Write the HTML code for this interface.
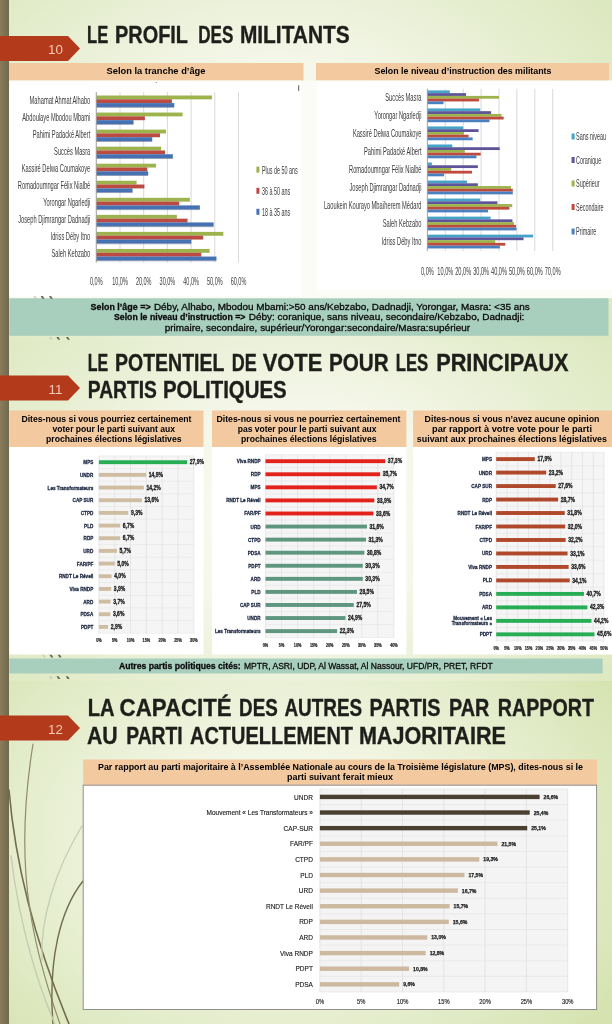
<!DOCTYPE html>
<html lang="fr"><head><meta charset="utf-8"><title>Le profil des militants</title>
<style>html,body{margin:0;padding:0;background:#e8efd6;}svg{display:block;}</style></head>
<body>
<svg width="612" height="1024" viewBox="0 0 612 1024" font-family='"Liberation Sans", sans-serif'>
<defs>
<radialGradient id="bg1" gradientUnits="userSpaceOnUse" cx="0" cy="0" r="1" gradientTransform="translate(280 170) scale(420 300)"><stop offset="0" stop-color="#fbfcf5"/><stop offset="0.35" stop-color="#f5f7ea"/><stop offset="0.7" stop-color="#e6eed0"/><stop offset="1" stop-color="#dbe7bc"/></radialGradient>
<radialGradient id="bg2" gradientUnits="userSpaceOnUse" cx="0" cy="0" r="1" gradientTransform="translate(300 511) scale(420 300)"><stop offset="0" stop-color="#fbfcf5"/><stop offset="0.35" stop-color="#f5f7ea"/><stop offset="0.7" stop-color="#e6eed0"/><stop offset="1" stop-color="#dbe7bc"/></radialGradient>
<radialGradient id="bg3" gradientUnits="userSpaceOnUse" cx="0" cy="0" r="1" gradientTransform="translate(280 840) scale(400 290)"><stop offset="0" stop-color="#f9fbf0"/><stop offset="0.35" stop-color="#f1f5e2"/><stop offset="0.7" stop-color="#e3ecca"/><stop offset="1" stop-color="#d6e3b0"/></radialGradient>
<linearGradient id="strip" x1="0" x2="1" y1="0" y2="0"><stop offset="0" stop-color="#8b7b5b"/><stop offset="1" stop-color="#6e6a4e"/></linearGradient>
</defs>
<rect x="0.00" y="0.00" width="612.00" height="341.00" fill="url(#bg1)" />
<rect x="0.00" y="341.00" width="612.00" height="340.00" fill="url(#bg2)" />
<rect x="0.00" y="681.00" width="612.00" height="343.00" fill="url(#bg3)" />
<g fill="none" stroke-linecap="round">
<path d="M9 790 C 14 850, 30 930, 69 1024" stroke="#716c4e" stroke-width="1.6"/>
<path d="M33 744 C 24 800, 22 860, 30 910 C 36 950, 48 990, 60 1024" stroke="#8f8b6d" stroke-width="1.2"/>
<path d="M83 881 C 60 910, 48 960, 53 1024" stroke="#716c4e" stroke-width="1.4"/>
<path d="M82 826 C 55 870, 40 920, 42 960" stroke="#c9cfb4" stroke-width="1.4"/>
<path d="M11 856 C 20 930, 40 990, 55 1024" stroke="#c7cdb2" stroke-width="1.4"/>
</g>
<rect x="0.00" y="0.00" width="9.00" height="1024.00" fill="url(#strip)" />
<text y="42.80" font-size="23" font-weight="bold" fill="#1e1e1a" stroke="#1e1e1a" stroke-width="0.35"><tspan x="87.00" textLength="21.20" lengthAdjust="spacingAndGlyphs">LE</tspan> <tspan x="115.10" textLength="72.50" lengthAdjust="spacingAndGlyphs">PROFIL</tspan> <tspan x="198.20" textLength="35.10" lengthAdjust="spacingAndGlyphs">DES</tspan> <tspan x="239.90" textLength="109.80" lengthAdjust="spacingAndGlyphs">MILITANTS</tspan></text>
<path d="M0 36 H68 L80 48.5 L68 61 H0 Z" fill="#b43a1c"/>
<text x="55.50" y="54.10" font-size="13.4" fill="#f4c9b6" font-weight="normal" text-anchor="middle" >10</text>
<rect x="9.00" y="63.00" width="294.50" height="17.70" fill="#f3c9a0" />
<rect x="316.00" y="63.00" width="293.00" height="17.70" fill="#f3c9a0" />
<text x="156.00" y="74.30" font-size="8.3" fill="#000" font-weight="bold" text-anchor="middle" textLength="99.00" lengthAdjust="spacingAndGlyphs" >Selon la tranche d’âge</text>
<text x="463.00" y="74.30" font-size="8.3" fill="#000" font-weight="bold" text-anchor="middle" textLength="177.00" lengthAdjust="spacingAndGlyphs" >Selon le niveau d’instruction des militants</text>
<rect x="9.30" y="80.70" width="602.70" height="217.60" fill="#fbfcf5" />
<rect x="9.30" y="80.70" width="292.00" height="215.50" fill="#ffffff" />
<rect x="316.60" y="80.70" width="295.40" height="208.90" fill="#ffffff" />
<circle cx="156.2" cy="82.6" r="0.7" fill="#777"/>
<rect x="298.20" y="85.30" width="1.00" height="5.60" fill="#555" />
<line x1="96.30" y1="92.00" x2="96.30" y2="262.50" stroke="#c8c8c8" stroke-width="0.7" />
<line x1="120.00" y1="92.00" x2="120.00" y2="262.50" stroke="#c8c8c8" stroke-width="0.7" />
<line x1="143.70" y1="92.00" x2="143.70" y2="262.50" stroke="#c8c8c8" stroke-width="0.7" />
<line x1="167.40" y1="92.00" x2="167.40" y2="262.50" stroke="#c8c8c8" stroke-width="0.7" />
<line x1="191.10" y1="92.00" x2="191.10" y2="262.50" stroke="#c8c8c8" stroke-width="0.7" />
<line x1="214.80" y1="92.00" x2="214.80" y2="262.50" stroke="#c8c8c8" stroke-width="0.7" />
<line x1="238.50" y1="92.00" x2="238.50" y2="262.50" stroke="#c8c8c8" stroke-width="0.7" />
<rect x="96.30" y="95.50" width="115.66" height="3.85" fill="#9cb34e" />
<rect x="96.30" y="99.30" width="75.60" height="3.85" fill="#bb4a42" />
<rect x="96.30" y="103.10" width="77.97" height="3.85" fill="#4672b4" />
<rect x="96.30" y="106.90" width="77.97" height="0.90" fill="#3b4f7a" opacity="0.55"/>
<text x="90.30" y="103.93" font-size="10.3" fill="#3a3a3a" font-weight="normal" text-anchor="end" textLength="60.69" lengthAdjust="spacingAndGlyphs" >Mahamat Ahmat Alhabo</text>
<rect x="96.30" y="112.55" width="86.27" height="3.85" fill="#9cb34e" />
<rect x="96.30" y="116.35" width="48.58" height="3.85" fill="#bb4a42" />
<rect x="96.30" y="120.15" width="37.21" height="3.85" fill="#4672b4" />
<rect x="96.30" y="123.95" width="37.21" height="0.90" fill="#3b4f7a" opacity="0.55"/>
<text x="90.30" y="120.98" font-size="10.3" fill="#3a3a3a" font-weight="normal" text-anchor="end" textLength="68.00" lengthAdjust="spacingAndGlyphs" >Abdoulaye Mbodou Mbami</text>
<rect x="96.30" y="129.60" width="69.68" height="3.85" fill="#9cb34e" />
<rect x="96.30" y="133.40" width="63.75" height="3.85" fill="#bb4a42" />
<rect x="96.30" y="137.20" width="55.93" height="3.85" fill="#4672b4" />
<rect x="96.30" y="141.00" width="55.93" height="0.90" fill="#3b4f7a" opacity="0.55"/>
<text x="90.30" y="138.03" font-size="10.3" fill="#3a3a3a" font-weight="normal" text-anchor="end" textLength="57.51" lengthAdjust="spacingAndGlyphs" >Pahimi Padacké Albert</text>
<rect x="96.30" y="146.65" width="64.70" height="3.85" fill="#9cb34e" />
<rect x="96.30" y="150.45" width="68.73" height="3.85" fill="#bb4a42" />
<rect x="96.30" y="154.25" width="76.55" height="3.85" fill="#4672b4" />
<rect x="96.30" y="158.05" width="76.55" height="0.90" fill="#3b4f7a" opacity="0.55"/>
<text x="90.30" y="155.08" font-size="10.3" fill="#3a3a3a" font-weight="normal" text-anchor="end" textLength="36.21" lengthAdjust="spacingAndGlyphs" >Succès Masra</text>
<rect x="96.30" y="163.70" width="59.72" height="3.85" fill="#9cb34e" />
<rect x="96.30" y="167.50" width="50.95" height="3.85" fill="#bb4a42" />
<rect x="96.30" y="171.30" width="51.90" height="3.85" fill="#4672b4" />
<rect x="96.30" y="175.10" width="51.90" height="0.90" fill="#3b4f7a" opacity="0.55"/>
<text x="90.30" y="172.12" font-size="10.3" fill="#3a3a3a" font-weight="normal" text-anchor="end" textLength="68.62" lengthAdjust="spacingAndGlyphs" >Kassiré Delwa Coumakoye</text>
<rect x="96.30" y="180.75" width="40.29" height="3.85" fill="#9cb34e" />
<rect x="96.30" y="184.55" width="48.11" height="3.85" fill="#bb4a42" />
<rect x="96.30" y="188.35" width="36.26" height="3.85" fill="#4672b4" />
<rect x="96.30" y="192.15" width="36.26" height="0.90" fill="#3b4f7a" opacity="0.55"/>
<text x="90.30" y="189.18" font-size="10.3" fill="#3a3a3a" font-weight="normal" text-anchor="end" textLength="72.44" lengthAdjust="spacingAndGlyphs" >Romadoumngar Félix Nialbé</text>
<rect x="96.30" y="197.80" width="93.61" height="3.85" fill="#9cb34e" />
<rect x="96.30" y="201.60" width="82.95" height="3.85" fill="#bb4a42" />
<rect x="96.30" y="205.40" width="103.57" height="3.85" fill="#4672b4" />
<rect x="96.30" y="209.20" width="103.57" height="0.90" fill="#3b4f7a" opacity="0.55"/>
<text x="90.30" y="206.23" font-size="10.3" fill="#3a3a3a" font-weight="normal" text-anchor="end" textLength="47.14" lengthAdjust="spacingAndGlyphs" >Yorongar Ngarledji</text>
<rect x="96.30" y="214.85" width="80.58" height="3.85" fill="#9cb34e" />
<rect x="96.30" y="218.65" width="91.25" height="3.85" fill="#bb4a42" />
<rect x="96.30" y="222.45" width="117.31" height="3.85" fill="#4672b4" />
<rect x="96.30" y="226.25" width="117.31" height="0.90" fill="#3b4f7a" opacity="0.55"/>
<text x="90.30" y="223.28" font-size="10.3" fill="#3a3a3a" font-weight="normal" text-anchor="end" textLength="72.12" lengthAdjust="spacingAndGlyphs" >Joseph Djimrangar Dadnadji</text>
<rect x="96.30" y="231.90" width="127.03" height="3.85" fill="#9cb34e" />
<rect x="96.30" y="235.70" width="106.89" height="3.85" fill="#bb4a42" />
<rect x="96.30" y="239.50" width="95.04" height="3.85" fill="#4672b4" />
<rect x="96.30" y="243.30" width="95.04" height="0.90" fill="#3b4f7a" opacity="0.55"/>
<text x="90.30" y="240.33" font-size="10.3" fill="#3a3a3a" font-weight="normal" text-anchor="end" textLength="39.71" lengthAdjust="spacingAndGlyphs" >Idriss Déby Itno</text>
<rect x="96.30" y="248.95" width="113.29" height="3.85" fill="#9cb34e" />
<rect x="96.30" y="252.75" width="104.99" height="3.85" fill="#bb4a42" />
<rect x="96.30" y="256.55" width="120.16" height="3.85" fill="#4672b4" />
<rect x="96.30" y="260.35" width="120.16" height="0.90" fill="#3b4f7a" opacity="0.55"/>
<text x="90.30" y="257.38" font-size="10.3" fill="#3a3a3a" font-weight="normal" text-anchor="end" textLength="38.77" lengthAdjust="spacingAndGlyphs" >Saleh Kebzabo</text>
<line x1="96.30" y1="92.00" x2="96.30" y2="262.50" stroke="#9a9a9a" stroke-width="0.8" />
<text x="96.30" y="285.20" font-size="10.3" fill="#3a3a3a" font-weight="normal" text-anchor="middle" textLength="12.56" lengthAdjust="spacingAndGlyphs" >0,0%</text>
<text x="120.00" y="285.20" font-size="10.3" fill="#3a3a3a" font-weight="normal" text-anchor="middle" textLength="15.62" lengthAdjust="spacingAndGlyphs" >10,0%</text>
<text x="143.70" y="285.20" font-size="10.3" fill="#3a3a3a" font-weight="normal" text-anchor="middle" textLength="15.62" lengthAdjust="spacingAndGlyphs" >20,0%</text>
<text x="167.40" y="285.20" font-size="10.3" fill="#3a3a3a" font-weight="normal" text-anchor="middle" textLength="15.62" lengthAdjust="spacingAndGlyphs" >30,0%</text>
<text x="191.10" y="285.20" font-size="10.3" fill="#3a3a3a" font-weight="normal" text-anchor="middle" textLength="15.62" lengthAdjust="spacingAndGlyphs" >40,0%</text>
<text x="214.80" y="285.20" font-size="10.3" fill="#3a3a3a" font-weight="normal" text-anchor="middle" textLength="15.62" lengthAdjust="spacingAndGlyphs" >50,0%</text>
<text x="238.50" y="285.20" font-size="10.3" fill="#3a3a3a" font-weight="normal" text-anchor="middle" textLength="15.62" lengthAdjust="spacingAndGlyphs" >60,0%</text>
<rect x="256.40" y="166.60" width="3.00" height="6.00" fill="#9cb34e" />
<text x="262.00" y="173.90" font-size="10.3" fill="#3a3a3a" font-weight="normal" text-anchor="start" textLength="35.77" lengthAdjust="spacingAndGlyphs" >Plus de 50 ans</text>
<rect x="256.40" y="187.80" width="3.00" height="6.00" fill="#bb4a42" />
<text x="262.00" y="195.10" font-size="10.3" fill="#3a3a3a" font-weight="normal" text-anchor="start" textLength="28.26" lengthAdjust="spacingAndGlyphs" >36 à 50 ans</text>
<rect x="256.40" y="208.80" width="3.00" height="6.00" fill="#4672b4" />
<text x="262.00" y="216.10" font-size="10.3" fill="#3a3a3a" font-weight="normal" text-anchor="start" textLength="28.26" lengthAdjust="spacingAndGlyphs" >18 à 35 ans</text>
<line x1="427.40" y1="88.80" x2="427.40" y2="251.07" stroke="#c8c8c8" stroke-width="0.7" />
<line x1="445.30" y1="88.80" x2="445.30" y2="251.07" stroke="#c8c8c8" stroke-width="0.7" />
<line x1="463.20" y1="88.80" x2="463.20" y2="251.07" stroke="#c8c8c8" stroke-width="0.7" />
<line x1="481.10" y1="88.80" x2="481.10" y2="251.07" stroke="#c8c8c8" stroke-width="0.7" />
<line x1="499.00" y1="88.80" x2="499.00" y2="251.07" stroke="#c8c8c8" stroke-width="0.7" />
<line x1="516.90" y1="88.80" x2="516.90" y2="251.07" stroke="#c8c8c8" stroke-width="0.7" />
<line x1="534.80" y1="88.80" x2="534.80" y2="251.07" stroke="#c8c8c8" stroke-width="0.7" />
<line x1="552.70" y1="88.80" x2="552.70" y2="251.07" stroke="#c8c8c8" stroke-width="0.7" />
<rect x="427.40" y="90.40" width="22.38" height="2.80" fill="#46a3c8" />
<rect x="427.40" y="93.15" width="38.66" height="2.80" fill="#5e549a" />
<rect x="427.40" y="95.90" width="71.60" height="2.80" fill="#9cb34e" />
<rect x="427.40" y="98.65" width="51.55" height="2.80" fill="#c04a3c" />
<rect x="427.40" y="101.40" width="16.11" height="2.80" fill="#4a7fc0" />
<text x="421.50" y="101.22" font-size="10.3" fill="#3a3a3a" font-weight="normal" text-anchor="end" textLength="36.21" lengthAdjust="spacingAndGlyphs" >Succès Masra</text>
<rect x="427.40" y="108.43" width="52.80" height="2.80" fill="#46a3c8" />
<rect x="427.40" y="111.18" width="63.72" height="2.80" fill="#5e549a" />
<rect x="427.40" y="113.93" width="74.11" height="2.80" fill="#9cb34e" />
<rect x="427.40" y="116.68" width="76.25" height="2.80" fill="#c04a3c" />
<rect x="427.40" y="119.43" width="62.11" height="2.80" fill="#4a7fc0" />
<text x="421.50" y="119.25" font-size="10.3" fill="#3a3a3a" font-weight="normal" text-anchor="end" textLength="47.14" lengthAdjust="spacingAndGlyphs" >Yorongar Ngarledji</text>
<rect x="427.40" y="126.46" width="35.80" height="2.80" fill="#46a3c8" />
<rect x="427.40" y="129.21" width="51.19" height="2.80" fill="#5e549a" />
<rect x="427.40" y="131.96" width="36.52" height="2.80" fill="#9cb34e" />
<rect x="427.40" y="134.71" width="41.17" height="2.80" fill="#c04a3c" />
<rect x="427.40" y="137.46" width="45.29" height="2.80" fill="#4a7fc0" />
<text x="421.50" y="137.28" font-size="10.3" fill="#3a3a3a" font-weight="normal" text-anchor="end" textLength="68.62" lengthAdjust="spacingAndGlyphs" >Kassiré Delwa Coumakoye</text>
<rect x="427.40" y="144.49" width="24.88" height="2.80" fill="#46a3c8" />
<rect x="427.40" y="147.24" width="72.32" height="2.80" fill="#5e549a" />
<rect x="427.40" y="149.99" width="37.41" height="2.80" fill="#9cb34e" />
<rect x="427.40" y="152.74" width="53.34" height="2.80" fill="#c04a3c" />
<rect x="427.40" y="155.49" width="49.05" height="2.80" fill="#4a7fc0" />
<text x="421.50" y="155.30" font-size="10.3" fill="#3a3a3a" font-weight="normal" text-anchor="end" textLength="57.51" lengthAdjust="spacingAndGlyphs" >Pahimi Padacké Albert</text>
<rect x="427.40" y="162.52" width="4.47" height="2.80" fill="#46a3c8" />
<rect x="427.40" y="165.27" width="50.48" height="2.80" fill="#5e549a" />
<rect x="427.40" y="168.02" width="23.81" height="2.80" fill="#9cb34e" />
<rect x="427.40" y="170.77" width="44.57" height="2.80" fill="#c04a3c" />
<rect x="427.40" y="173.52" width="16.65" height="2.80" fill="#4a7fc0" />
<text x="421.50" y="173.34" font-size="10.3" fill="#3a3a3a" font-weight="normal" text-anchor="end" textLength="72.44" lengthAdjust="spacingAndGlyphs" >Romadoumngar Félix Nialbé</text>
<rect x="427.40" y="180.55" width="39.56" height="2.80" fill="#46a3c8" />
<rect x="427.40" y="183.30" width="50.48" height="2.80" fill="#5e549a" />
<rect x="427.40" y="186.05" width="83.59" height="2.80" fill="#9cb34e" />
<rect x="427.40" y="188.80" width="85.38" height="2.80" fill="#c04a3c" />
<rect x="427.40" y="191.55" width="85.38" height="2.80" fill="#4a7fc0" />
<text x="421.50" y="191.36" font-size="10.3" fill="#3a3a3a" font-weight="normal" text-anchor="end" textLength="72.12" lengthAdjust="spacingAndGlyphs" >Joseph Djimrangar Dadnadji</text>
<rect x="427.40" y="198.58" width="52.80" height="2.80" fill="#46a3c8" />
<rect x="427.40" y="201.33" width="69.99" height="2.80" fill="#5e549a" />
<rect x="427.40" y="204.08" width="84.85" height="2.80" fill="#9cb34e" />
<rect x="427.40" y="206.83" width="81.98" height="2.80" fill="#c04a3c" />
<rect x="427.40" y="209.58" width="60.68" height="2.80" fill="#4a7fc0" />
<text x="421.50" y="209.40" font-size="10.3" fill="#3a3a3a" font-weight="normal" text-anchor="end" textLength="97.55" lengthAdjust="spacingAndGlyphs" >Laoukein Kourayo Mbaïherem Médard</text>
<rect x="427.40" y="216.61" width="63.19" height="2.80" fill="#46a3c8" />
<rect x="427.40" y="219.36" width="85.02" height="2.80" fill="#5e549a" />
<rect x="427.40" y="222.11" width="86.64" height="2.80" fill="#9cb34e" />
<rect x="427.40" y="224.86" width="88.60" height="2.80" fill="#c04a3c" />
<rect x="427.40" y="227.61" width="89.14" height="2.80" fill="#4a7fc0" />
<text x="421.50" y="227.42" font-size="10.3" fill="#3a3a3a" font-weight="normal" text-anchor="end" textLength="38.77" lengthAdjust="spacingAndGlyphs" >Saleh Kebzabo</text>
<rect x="427.40" y="234.64" width="105.79" height="2.80" fill="#46a3c8" />
<rect x="427.40" y="237.39" width="96.12" height="2.80" fill="#5e549a" />
<rect x="427.40" y="240.14" width="67.84" height="2.80" fill="#9cb34e" />
<rect x="427.40" y="242.89" width="77.86" height="2.80" fill="#c04a3c" />
<rect x="427.40" y="245.64" width="72.49" height="2.80" fill="#4a7fc0" />
<text x="421.50" y="245.46" font-size="10.3" fill="#3a3a3a" font-weight="normal" text-anchor="end" textLength="39.71" lengthAdjust="spacingAndGlyphs" >Idriss Déby Itno</text>
<line x1="427.40" y1="88.80" x2="427.40" y2="251.07" stroke="#9a9a9a" stroke-width="0.8" />
<text x="427.40" y="275.40" font-size="10.3" fill="#3a3a3a" font-weight="normal" text-anchor="middle" textLength="12.79" lengthAdjust="spacingAndGlyphs" >0,0%</text>
<text x="445.30" y="275.40" font-size="10.3" fill="#3a3a3a" font-weight="normal" text-anchor="middle" textLength="15.92" lengthAdjust="spacingAndGlyphs" >10,0%</text>
<text x="463.20" y="275.40" font-size="10.3" fill="#3a3a3a" font-weight="normal" text-anchor="middle" textLength="15.92" lengthAdjust="spacingAndGlyphs" >20,0%</text>
<text x="481.10" y="275.40" font-size="10.3" fill="#3a3a3a" font-weight="normal" text-anchor="middle" textLength="15.92" lengthAdjust="spacingAndGlyphs" >30,0%</text>
<text x="499.00" y="275.40" font-size="10.3" fill="#3a3a3a" font-weight="normal" text-anchor="middle" textLength="15.92" lengthAdjust="spacingAndGlyphs" >40,0%</text>
<text x="516.90" y="275.40" font-size="10.3" fill="#3a3a3a" font-weight="normal" text-anchor="middle" textLength="15.92" lengthAdjust="spacingAndGlyphs" >50,0%</text>
<text x="534.80" y="275.40" font-size="10.3" fill="#3a3a3a" font-weight="normal" text-anchor="middle" textLength="15.92" lengthAdjust="spacingAndGlyphs" >60,0%</text>
<text x="552.70" y="275.40" font-size="10.3" fill="#3a3a3a" font-weight="normal" text-anchor="middle" textLength="15.92" lengthAdjust="spacingAndGlyphs" >70,0%</text>
<rect x="571.60" y="133.50" width="3.00" height="6.00" fill="#46a3c8" />
<text x="576.00" y="140.10" font-size="10.3" fill="#3a3a3a" font-weight="normal" text-anchor="start" textLength="30.04" lengthAdjust="spacingAndGlyphs" >Sans niveau</text>
<rect x="571.60" y="157.00" width="3.00" height="6.00" fill="#5e549a" />
<text x="576.00" y="163.60" font-size="10.3" fill="#3a3a3a" font-weight="normal" text-anchor="start" textLength="25.19" lengthAdjust="spacingAndGlyphs" >Coranique</text>
<rect x="571.60" y="180.50" width="3.00" height="6.00" fill="#9cb34e" />
<text x="576.00" y="187.10" font-size="10.3" fill="#3a3a3a" font-weight="normal" text-anchor="start" textLength="23.67" lengthAdjust="spacingAndGlyphs" >Supérieur</text>
<rect x="571.60" y="204.00" width="3.00" height="6.00" fill="#c04a3c" />
<text x="576.00" y="210.60" font-size="10.3" fill="#3a3a3a" font-weight="normal" text-anchor="start" textLength="27.62" lengthAdjust="spacingAndGlyphs" >Secondaire</text>
<rect x="571.60" y="228.50" width="3.00" height="6.00" fill="#4a7fc0" />
<text x="576.00" y="235.10" font-size="10.3" fill="#3a3a3a" font-weight="normal" text-anchor="start" textLength="20.32" lengthAdjust="spacingAndGlyphs" >Primaire</text>
<rect x="9.30" y="298.30" width="599.20" height="37.50" fill="#a8cebe" />
<text y="309.50" font-size="9" fill="#0a0a0a" stroke="#0a0a0a" stroke-width="0.28"><tspan x="90.60" textLength="60.00" lengthAdjust="spacingAndGlyphs" font-weight="bold">Selon l’âge =&gt;</tspan><tspan x="151.20" textLength="378.50" lengthAdjust="spacingAndGlyphs"> Déby, Alhabo, Mbodou Mbami:&gt;50 ans/Kebzabo, Dadnadji, Yorongar, Masra: &lt;35 ans</tspan></text>
<text y="320.00" font-size="9" fill="#0a0a0a" stroke="#0a0a0a" stroke-width="0.28"><tspan x="114.00" textLength="131.40" lengthAdjust="spacingAndGlyphs" font-weight="bold">Selon le niveau d’instruction =&gt;</tspan><tspan x="246.00" textLength="278.40" lengthAdjust="spacingAndGlyphs"> Déby: coranique, sans niveau, secondaire/Kebzabo, Dadnadji:</tspan></text>
<text y="330.50" font-size="9" fill="#0a0a0a" stroke="#0a0a0a" stroke-width="0.28"><tspan x="164.70" textLength="305.30" lengthAdjust="spacingAndGlyphs">primaire, secondaire, supérieur/Yorongar:secondaire/Masra:supérieur</tspan></text>
<text y="370.70" font-size="23" font-weight="bold" fill="#1e1e1a" stroke="#1e1e1a" stroke-width="0.35"><tspan x="87.80" textLength="20.40" lengthAdjust="spacingAndGlyphs">LE</tspan> <tspan x="115.10" textLength="108.90" lengthAdjust="spacingAndGlyphs">POTENTIEL</tspan> <tspan x="231.70" textLength="25.00" lengthAdjust="spacingAndGlyphs">DE</tspan> <tspan x="262.70" textLength="59.60" lengthAdjust="spacingAndGlyphs">VOTE</tspan> <tspan x="328.90" textLength="59.80" lengthAdjust="spacingAndGlyphs">POUR</tspan> <tspan x="395.70" textLength="32.60" lengthAdjust="spacingAndGlyphs">LES</tspan> <tspan x="436.20" textLength="132.40" lengthAdjust="spacingAndGlyphs">PRINCIPAUX</tspan></text>
<text y="397.80" font-size="23" font-weight="bold" fill="#1e1e1a" stroke="#1e1e1a" stroke-width="0.35"><tspan x="87.80" textLength="69.10" lengthAdjust="spacingAndGlyphs">PARTIS</tspan> <tspan x="163.00" textLength="123.70" lengthAdjust="spacingAndGlyphs">POLITIQUES</tspan></text>
<path d="M0 375.6 H68 L80 388.1 L68 400.6 H0 Z" fill="#b43a1c"/>
<text x="55.50" y="393.70" font-size="13.4" fill="#f4c9b6" font-weight="normal" text-anchor="middle" >11</text>
<rect x="9.30" y="410.50" width="194.20" height="36.50" fill="#f3c9a0" />
<rect x="9.30" y="447.00" width="194.20" height="207.50" fill="#ffffff" />
<rect x="212.00" y="410.50" width="194.40" height="36.50" fill="#f3c9a0" />
<rect x="212.00" y="447.00" width="194.40" height="207.50" fill="#ffffff" />
<rect x="413.10" y="410.50" width="198.90" height="36.50" fill="#f3c9a0" />
<rect x="413.10" y="447.00" width="198.90" height="207.50" fill="#ffffff" />
<text x="21.40" y="422.40" font-size="8.6" fill="#000" font-weight="bold" text-anchor="start" textLength="170.00" lengthAdjust="spacingAndGlyphs" >Dites-nous si vous pourriez certainement</text>
<text x="52.50" y="432.20" font-size="8.6" fill="#000" font-weight="bold" text-anchor="start" textLength="122.50" lengthAdjust="spacingAndGlyphs" >voter pour le parti suivant aux</text>
<text x="46.00" y="442.00" font-size="8.6" fill="#000" font-weight="bold" text-anchor="start" textLength="135.60" lengthAdjust="spacingAndGlyphs" >prochaines élections législatives</text>
<text x="216.40" y="422.40" font-size="8.6" fill="#000" font-weight="bold" text-anchor="start" textLength="184.00" lengthAdjust="spacingAndGlyphs" >Dites-nous si vous ne pourriez certainement</text>
<text x="237.70" y="432.20" font-size="8.6" fill="#000" font-weight="bold" text-anchor="start" textLength="138.90" lengthAdjust="spacingAndGlyphs" >pas voter pour le parti suivant aux</text>
<text x="241.00" y="442.00" font-size="8.6" fill="#000" font-weight="bold" text-anchor="start" textLength="135.60" lengthAdjust="spacingAndGlyphs" >prochaines élections législatives</text>
<text x="424.60" y="422.40" font-size="8.6" fill="#000" font-weight="bold" text-anchor="start" textLength="174.90" lengthAdjust="spacingAndGlyphs" >Dites-nous si vous n’avez aucune opinion</text>
<text x="432.00" y="432.40" font-size="8.6" fill="#000" font-weight="bold" text-anchor="start" textLength="160.00" lengthAdjust="spacingAndGlyphs" >par rapport à votre vote pour le parti</text>
<text x="416.80" y="442.30" font-size="8.6" fill="#000" font-weight="bold" text-anchor="start" textLength="190.20" lengthAdjust="spacingAndGlyphs" >suivant aux prochaines élections législatives</text>
<rect x="98.90" y="455.87" width="94.92" height="177.38" fill="#f5f5f5" />
<line x1="98.90" y1="455.87" x2="193.82" y2="455.87" stroke="#e3e3e3" stroke-width="0.5" />
<line x1="98.90" y1="468.54" x2="193.82" y2="468.54" stroke="#e3e3e3" stroke-width="0.5" />
<line x1="98.90" y1="481.20" x2="193.82" y2="481.20" stroke="#e3e3e3" stroke-width="0.5" />
<line x1="98.90" y1="493.88" x2="193.82" y2="493.88" stroke="#e3e3e3" stroke-width="0.5" />
<line x1="98.90" y1="506.55" x2="193.82" y2="506.55" stroke="#e3e3e3" stroke-width="0.5" />
<line x1="98.90" y1="519.22" x2="193.82" y2="519.22" stroke="#e3e3e3" stroke-width="0.5" />
<line x1="98.90" y1="531.88" x2="193.82" y2="531.88" stroke="#e3e3e3" stroke-width="0.5" />
<line x1="98.90" y1="544.56" x2="193.82" y2="544.56" stroke="#e3e3e3" stroke-width="0.5" />
<line x1="98.90" y1="557.23" x2="193.82" y2="557.23" stroke="#e3e3e3" stroke-width="0.5" />
<line x1="98.90" y1="569.89" x2="193.82" y2="569.89" stroke="#e3e3e3" stroke-width="0.5" />
<line x1="98.90" y1="582.57" x2="193.82" y2="582.57" stroke="#e3e3e3" stroke-width="0.5" />
<line x1="98.90" y1="595.24" x2="193.82" y2="595.24" stroke="#e3e3e3" stroke-width="0.5" />
<line x1="98.90" y1="607.90" x2="193.82" y2="607.90" stroke="#e3e3e3" stroke-width="0.5" />
<line x1="98.90" y1="620.58" x2="193.82" y2="620.58" stroke="#e3e3e3" stroke-width="0.5" />
<line x1="98.90" y1="633.25" x2="193.82" y2="633.25" stroke="#e3e3e3" stroke-width="0.5" />
<line x1="98.90" y1="455.87" x2="98.90" y2="633.25" stroke="#dcdcdc" stroke-width="0.6" />
<line x1="114.72" y1="455.87" x2="114.72" y2="633.25" stroke="#dcdcdc" stroke-width="0.6" />
<line x1="130.54" y1="455.87" x2="130.54" y2="633.25" stroke="#dcdcdc" stroke-width="0.6" />
<line x1="146.36" y1="455.87" x2="146.36" y2="633.25" stroke="#dcdcdc" stroke-width="0.6" />
<line x1="162.18" y1="455.87" x2="162.18" y2="633.25" stroke="#dcdcdc" stroke-width="0.6" />
<line x1="178.00" y1="455.87" x2="178.00" y2="633.25" stroke="#dcdcdc" stroke-width="0.6" />
<line x1="193.82" y1="455.87" x2="193.82" y2="633.25" stroke="#dcdcdc" stroke-width="0.6" />
<rect x="98.90" y="460.25" width="88.28" height="3.90" fill="#27ae55" />
<text x="93.30" y="464.20" font-size="6.0" fill="#1b2640" font-weight="bold" text-anchor="end" textLength="10.01" lengthAdjust="spacingAndGlyphs" stroke="#1b2640" stroke-width="0.3">MPS</text>
<text x="189.78" y="464.30" font-size="6.3" fill="#1a1a1a" font-weight="bold" text-anchor="start" textLength="14.29" lengthAdjust="spacingAndGlyphs" stroke="#1a1a1a" stroke-width="0.3">27,9%</text>
<rect x="98.90" y="472.92" width="47.14" height="3.90" fill="#cfbda2" />
<text x="93.30" y="476.87" font-size="6.0" fill="#1b2640" font-weight="bold" text-anchor="end" textLength="13.35" lengthAdjust="spacingAndGlyphs" stroke="#1b2640" stroke-width="0.3">UNDR</text>
<text x="148.64" y="476.97" font-size="6.3" fill="#1a1a1a" font-weight="bold" text-anchor="start" textLength="14.29" lengthAdjust="spacingAndGlyphs" stroke="#1a1a1a" stroke-width="0.3">14,9%</text>
<rect x="98.90" y="485.59" width="44.93" height="3.90" fill="#cfbda2" />
<text x="93.30" y="489.54" font-size="6.0" fill="#1b2640" font-weight="bold" text-anchor="end" textLength="45.70" lengthAdjust="spacingAndGlyphs" stroke="#1b2640" stroke-width="0.3">Les Transformateurs</text>
<text x="146.43" y="489.64" font-size="6.3" fill="#1a1a1a" font-weight="bold" text-anchor="start" textLength="14.29" lengthAdjust="spacingAndGlyphs" stroke="#1a1a1a" stroke-width="0.3">14,2%</text>
<rect x="98.90" y="498.26" width="43.03" height="3.90" fill="#cfbda2" />
<text x="93.30" y="502.21" font-size="6.0" fill="#1b2640" font-weight="bold" text-anchor="end" textLength="20.71" lengthAdjust="spacingAndGlyphs" stroke="#1b2640" stroke-width="0.3">CAP SUR</text>
<text x="144.53" y="502.31" font-size="6.3" fill="#1a1a1a" font-weight="bold" text-anchor="start" textLength="14.29" lengthAdjust="spacingAndGlyphs" stroke="#1a1a1a" stroke-width="0.3">13,6%</text>
<rect x="98.90" y="510.93" width="29.43" height="3.90" fill="#cfbda2" />
<text x="93.30" y="514.88" font-size="6.0" fill="#1b2640" font-weight="bold" text-anchor="end" textLength="12.58" lengthAdjust="spacingAndGlyphs" stroke="#1b2640" stroke-width="0.3">CTPD</text>
<text x="130.93" y="514.98" font-size="6.3" fill="#1a1a1a" font-weight="bold" text-anchor="start" textLength="11.49" lengthAdjust="spacingAndGlyphs" stroke="#1a1a1a" stroke-width="0.3">9,3%</text>
<rect x="98.90" y="523.60" width="21.20" height="3.90" fill="#cfbda2" />
<text x="93.30" y="527.55" font-size="6.0" fill="#1b2640" font-weight="bold" text-anchor="end" textLength="9.24" lengthAdjust="spacingAndGlyphs" stroke="#1b2640" stroke-width="0.3">PLD</text>
<text x="122.70" y="527.65" font-size="6.3" fill="#1a1a1a" font-weight="bold" text-anchor="start" textLength="11.49" lengthAdjust="spacingAndGlyphs" stroke="#1a1a1a" stroke-width="0.3">6,7%</text>
<rect x="98.90" y="536.27" width="21.20" height="3.90" fill="#cfbda2" />
<text x="93.30" y="540.22" font-size="6.0" fill="#1b2640" font-weight="bold" text-anchor="end" textLength="9.75" lengthAdjust="spacingAndGlyphs" stroke="#1b2640" stroke-width="0.3">RDP</text>
<text x="122.70" y="540.32" font-size="6.3" fill="#1a1a1a" font-weight="bold" text-anchor="start" textLength="11.49" lengthAdjust="spacingAndGlyphs" stroke="#1a1a1a" stroke-width="0.3">6,7%</text>
<rect x="98.90" y="548.94" width="18.03" height="3.90" fill="#cfbda2" />
<text x="93.30" y="552.89" font-size="6.0" fill="#1b2640" font-weight="bold" text-anchor="end" textLength="10.01" lengthAdjust="spacingAndGlyphs" stroke="#1b2640" stroke-width="0.3">URD</text>
<text x="119.53" y="552.99" font-size="6.3" fill="#1a1a1a" font-weight="bold" text-anchor="start" textLength="11.49" lengthAdjust="spacingAndGlyphs" stroke="#1a1a1a" stroke-width="0.3">5,7%</text>
<rect x="98.90" y="561.61" width="15.82" height="3.90" fill="#cfbda2" />
<text x="93.30" y="565.56" font-size="6.0" fill="#1b2640" font-weight="bold" text-anchor="end" textLength="16.43" lengthAdjust="spacingAndGlyphs" stroke="#1b2640" stroke-width="0.3">FAR/PF</text>
<text x="117.32" y="565.66" font-size="6.3" fill="#1a1a1a" font-weight="bold" text-anchor="start" textLength="11.49" lengthAdjust="spacingAndGlyphs" stroke="#1a1a1a" stroke-width="0.3">5,0%</text>
<rect x="98.90" y="574.28" width="12.66" height="3.90" fill="#cfbda2" />
<text x="93.30" y="578.23" font-size="6.0" fill="#1b2640" font-weight="bold" text-anchor="end" textLength="34.40" lengthAdjust="spacingAndGlyphs" stroke="#1b2640" stroke-width="0.3">RNDT Le Réveil</text>
<text x="114.16" y="578.33" font-size="6.3" fill="#1a1a1a" font-weight="bold" text-anchor="start" textLength="11.49" lengthAdjust="spacingAndGlyphs" stroke="#1a1a1a" stroke-width="0.3">4,0%</text>
<rect x="98.90" y="586.95" width="12.34" height="3.90" fill="#cfbda2" />
<text x="93.30" y="590.90" font-size="6.0" fill="#1b2640" font-weight="bold" text-anchor="end" textLength="23.79" lengthAdjust="spacingAndGlyphs" stroke="#1b2640" stroke-width="0.3">Viva RNDP</text>
<text x="113.84" y="591.00" font-size="6.3" fill="#1a1a1a" font-weight="bold" text-anchor="start" textLength="11.49" lengthAdjust="spacingAndGlyphs" stroke="#1a1a1a" stroke-width="0.3">3,9%</text>
<rect x="98.90" y="599.62" width="11.71" height="3.90" fill="#cfbda2" />
<text x="93.30" y="603.57" font-size="6.0" fill="#1b2640" font-weight="bold" text-anchor="end" textLength="10.01" lengthAdjust="spacingAndGlyphs" stroke="#1b2640" stroke-width="0.3">ARD</text>
<text x="113.21" y="603.67" font-size="6.3" fill="#1a1a1a" font-weight="bold" text-anchor="start" textLength="11.49" lengthAdjust="spacingAndGlyphs" stroke="#1a1a1a" stroke-width="0.3">3,7%</text>
<rect x="98.90" y="612.29" width="11.39" height="3.90" fill="#cfbda2" />
<text x="93.30" y="616.24" font-size="6.0" fill="#1b2640" font-weight="bold" text-anchor="end" textLength="12.84" lengthAdjust="spacingAndGlyphs" stroke="#1b2640" stroke-width="0.3">PDSA</text>
<text x="112.89" y="616.34" font-size="6.3" fill="#1a1a1a" font-weight="bold" text-anchor="start" textLength="11.49" lengthAdjust="spacingAndGlyphs" stroke="#1a1a1a" stroke-width="0.3">3,6%</text>
<rect x="98.90" y="624.96" width="9.18" height="3.90" fill="#cfbda2" />
<text x="93.30" y="628.91" font-size="6.0" fill="#1b2640" font-weight="bold" text-anchor="end" textLength="12.32" lengthAdjust="spacingAndGlyphs" stroke="#1b2640" stroke-width="0.3">PDPT</text>
<text x="110.68" y="629.01" font-size="6.3" fill="#1a1a1a" font-weight="bold" text-anchor="start" textLength="11.49" lengthAdjust="spacingAndGlyphs" stroke="#1a1a1a" stroke-width="0.3">2,9%</text>
<text x="98.90" y="642.10" font-size="5.0" fill="#222" font-weight="bold" text-anchor="middle" textLength="5.42" lengthAdjust="spacingAndGlyphs" stroke="#222" stroke-width="0.2">0%</text>
<text x="114.72" y="642.10" font-size="5.0" fill="#222" font-weight="bold" text-anchor="middle" textLength="5.42" lengthAdjust="spacingAndGlyphs" stroke="#222" stroke-width="0.2">5%</text>
<text x="130.54" y="642.10" font-size="5.0" fill="#222" font-weight="bold" text-anchor="middle" textLength="7.51" lengthAdjust="spacingAndGlyphs" stroke="#222" stroke-width="0.2">10%</text>
<text x="146.36" y="642.10" font-size="5.0" fill="#222" font-weight="bold" text-anchor="middle" textLength="7.51" lengthAdjust="spacingAndGlyphs" stroke="#222" stroke-width="0.2">15%</text>
<text x="162.18" y="642.10" font-size="5.0" fill="#222" font-weight="bold" text-anchor="middle" textLength="7.51" lengthAdjust="spacingAndGlyphs" stroke="#222" stroke-width="0.2">20%</text>
<text x="178.00" y="642.10" font-size="5.0" fill="#222" font-weight="bold" text-anchor="middle" textLength="7.51" lengthAdjust="spacingAndGlyphs" stroke="#222" stroke-width="0.2">25%</text>
<text x="193.82" y="642.10" font-size="5.0" fill="#222" font-weight="bold" text-anchor="middle" textLength="7.51" lengthAdjust="spacingAndGlyphs" stroke="#222" stroke-width="0.2">30%</text>
<rect x="265.50" y="454.66" width="128.40" height="182.98" fill="#f5f5f5" />
<line x1="265.50" y1="454.66" x2="393.90" y2="454.66" stroke="#e3e3e3" stroke-width="0.5" />
<line x1="265.50" y1="467.73" x2="393.90" y2="467.73" stroke="#e3e3e3" stroke-width="0.5" />
<line x1="265.50" y1="480.80" x2="393.90" y2="480.80" stroke="#e3e3e3" stroke-width="0.5" />
<line x1="265.50" y1="493.87" x2="393.90" y2="493.87" stroke="#e3e3e3" stroke-width="0.5" />
<line x1="265.50" y1="506.94" x2="393.90" y2="506.94" stroke="#e3e3e3" stroke-width="0.5" />
<line x1="265.50" y1="520.01" x2="393.90" y2="520.01" stroke="#e3e3e3" stroke-width="0.5" />
<line x1="265.50" y1="533.08" x2="393.90" y2="533.08" stroke="#e3e3e3" stroke-width="0.5" />
<line x1="265.50" y1="546.15" x2="393.90" y2="546.15" stroke="#e3e3e3" stroke-width="0.5" />
<line x1="265.50" y1="559.22" x2="393.90" y2="559.22" stroke="#e3e3e3" stroke-width="0.5" />
<line x1="265.50" y1="572.29" x2="393.90" y2="572.29" stroke="#e3e3e3" stroke-width="0.5" />
<line x1="265.50" y1="585.37" x2="393.90" y2="585.37" stroke="#e3e3e3" stroke-width="0.5" />
<line x1="265.50" y1="598.43" x2="393.90" y2="598.43" stroke="#e3e3e3" stroke-width="0.5" />
<line x1="265.50" y1="611.50" x2="393.90" y2="611.50" stroke="#e3e3e3" stroke-width="0.5" />
<line x1="265.50" y1="624.57" x2="393.90" y2="624.57" stroke="#e3e3e3" stroke-width="0.5" />
<line x1="265.50" y1="637.64" x2="393.90" y2="637.64" stroke="#e3e3e3" stroke-width="0.5" />
<line x1="265.50" y1="454.66" x2="265.50" y2="637.64" stroke="#dcdcdc" stroke-width="0.6" />
<line x1="281.55" y1="454.66" x2="281.55" y2="637.64" stroke="#dcdcdc" stroke-width="0.6" />
<line x1="297.60" y1="454.66" x2="297.60" y2="637.64" stroke="#dcdcdc" stroke-width="0.6" />
<line x1="313.65" y1="454.66" x2="313.65" y2="637.64" stroke="#dcdcdc" stroke-width="0.6" />
<line x1="329.70" y1="454.66" x2="329.70" y2="637.64" stroke="#dcdcdc" stroke-width="0.6" />
<line x1="345.75" y1="454.66" x2="345.75" y2="637.64" stroke="#dcdcdc" stroke-width="0.6" />
<line x1="361.80" y1="454.66" x2="361.80" y2="637.64" stroke="#dcdcdc" stroke-width="0.6" />
<line x1="377.85" y1="454.66" x2="377.85" y2="637.64" stroke="#dcdcdc" stroke-width="0.6" />
<line x1="393.90" y1="454.66" x2="393.90" y2="637.64" stroke="#dcdcdc" stroke-width="0.6" />
<rect x="265.50" y="459.25" width="119.73" height="3.90" fill="#e3221c" />
<text x="260.60" y="463.20" font-size="6.0" fill="#1b2640" font-weight="bold" text-anchor="end" textLength="23.79" lengthAdjust="spacingAndGlyphs" stroke="#1b2640" stroke-width="0.3">Viva RNDP</text>
<text x="387.83" y="463.30" font-size="6.3" fill="#1a1a1a" font-weight="bold" text-anchor="start" textLength="14.29" lengthAdjust="spacingAndGlyphs" stroke="#1a1a1a" stroke-width="0.3">37,3%</text>
<rect x="265.50" y="472.32" width="114.60" height="3.90" fill="#e3221c" />
<text x="260.60" y="476.27" font-size="6.0" fill="#1b2640" font-weight="bold" text-anchor="end" textLength="9.75" lengthAdjust="spacingAndGlyphs" stroke="#1b2640" stroke-width="0.3">RDP</text>
<text x="382.70" y="476.37" font-size="6.3" fill="#1a1a1a" font-weight="bold" text-anchor="start" textLength="14.29" lengthAdjust="spacingAndGlyphs" stroke="#1a1a1a" stroke-width="0.3">35,7%</text>
<rect x="265.50" y="485.39" width="111.39" height="3.90" fill="#e3221c" />
<text x="260.60" y="489.34" font-size="6.0" fill="#1b2640" font-weight="bold" text-anchor="end" textLength="10.01" lengthAdjust="spacingAndGlyphs" stroke="#1b2640" stroke-width="0.3">MPS</text>
<text x="379.49" y="489.44" font-size="6.3" fill="#1a1a1a" font-weight="bold" text-anchor="start" textLength="14.29" lengthAdjust="spacingAndGlyphs" stroke="#1a1a1a" stroke-width="0.3">34,7%</text>
<rect x="265.50" y="498.46" width="108.82" height="3.90" fill="#e3221c" />
<text x="260.60" y="502.41" font-size="6.0" fill="#1b2640" font-weight="bold" text-anchor="end" textLength="34.40" lengthAdjust="spacingAndGlyphs" stroke="#1b2640" stroke-width="0.3">RNDT Le Réveil</text>
<text x="376.92" y="502.51" font-size="6.3" fill="#1a1a1a" font-weight="bold" text-anchor="start" textLength="14.29" lengthAdjust="spacingAndGlyphs" stroke="#1a1a1a" stroke-width="0.3">33,9%</text>
<rect x="265.50" y="511.53" width="107.86" height="3.90" fill="#e3221c" />
<text x="260.60" y="515.48" font-size="6.0" fill="#1b2640" font-weight="bold" text-anchor="end" textLength="16.43" lengthAdjust="spacingAndGlyphs" stroke="#1b2640" stroke-width="0.3">FAR/PF</text>
<text x="375.96" y="515.58" font-size="6.3" fill="#1a1a1a" font-weight="bold" text-anchor="start" textLength="14.29" lengthAdjust="spacingAndGlyphs" stroke="#1a1a1a" stroke-width="0.3">33,6%</text>
<rect x="265.50" y="524.60" width="101.44" height="3.90" fill="#5e9680" />
<text x="260.60" y="528.55" font-size="6.0" fill="#1b2640" font-weight="bold" text-anchor="end" textLength="10.01" lengthAdjust="spacingAndGlyphs" stroke="#1b2640" stroke-width="0.3">URD</text>
<text x="369.54" y="528.65" font-size="6.3" fill="#1a1a1a" font-weight="bold" text-anchor="start" textLength="14.29" lengthAdjust="spacingAndGlyphs" stroke="#1a1a1a" stroke-width="0.3">31,6%</text>
<rect x="265.50" y="537.67" width="100.47" height="3.90" fill="#5e9680" />
<text x="260.60" y="541.62" font-size="6.0" fill="#1b2640" font-weight="bold" text-anchor="end" textLength="12.58" lengthAdjust="spacingAndGlyphs" stroke="#1b2640" stroke-width="0.3">CTPD</text>
<text x="368.57" y="541.72" font-size="6.3" fill="#1a1a1a" font-weight="bold" text-anchor="start" textLength="14.29" lengthAdjust="spacingAndGlyphs" stroke="#1a1a1a" stroke-width="0.3">31,3%</text>
<rect x="265.50" y="550.74" width="98.87" height="3.90" fill="#5e9680" />
<text x="260.60" y="554.69" font-size="6.0" fill="#1b2640" font-weight="bold" text-anchor="end" textLength="12.84" lengthAdjust="spacingAndGlyphs" stroke="#1b2640" stroke-width="0.3">PDSA</text>
<text x="366.97" y="554.79" font-size="6.3" fill="#1a1a1a" font-weight="bold" text-anchor="start" textLength="14.29" lengthAdjust="spacingAndGlyphs" stroke="#1a1a1a" stroke-width="0.3">30,8%</text>
<rect x="265.50" y="563.81" width="97.26" height="3.90" fill="#5e9680" />
<text x="260.60" y="567.76" font-size="6.0" fill="#1b2640" font-weight="bold" text-anchor="end" textLength="12.32" lengthAdjust="spacingAndGlyphs" stroke="#1b2640" stroke-width="0.3">PDPT</text>
<text x="365.36" y="567.86" font-size="6.3" fill="#1a1a1a" font-weight="bold" text-anchor="start" textLength="14.29" lengthAdjust="spacingAndGlyphs" stroke="#1a1a1a" stroke-width="0.3">30,3%</text>
<rect x="265.50" y="576.88" width="97.26" height="3.90" fill="#5e9680" />
<text x="260.60" y="580.83" font-size="6.0" fill="#1b2640" font-weight="bold" text-anchor="end" textLength="10.01" lengthAdjust="spacingAndGlyphs" stroke="#1b2640" stroke-width="0.3">ARD</text>
<text x="365.36" y="580.93" font-size="6.3" fill="#1a1a1a" font-weight="bold" text-anchor="start" textLength="14.29" lengthAdjust="spacingAndGlyphs" stroke="#1a1a1a" stroke-width="0.3">30,3%</text>
<rect x="265.50" y="589.95" width="91.49" height="3.90" fill="#5e9680" />
<text x="260.60" y="593.90" font-size="6.0" fill="#1b2640" font-weight="bold" text-anchor="end" textLength="9.24" lengthAdjust="spacingAndGlyphs" stroke="#1b2640" stroke-width="0.3">PLD</text>
<text x="359.59" y="594.00" font-size="6.3" fill="#1a1a1a" font-weight="bold" text-anchor="start" textLength="14.29" lengthAdjust="spacingAndGlyphs" stroke="#1a1a1a" stroke-width="0.3">28,5%</text>
<rect x="265.50" y="603.02" width="88.28" height="3.90" fill="#5e9680" />
<text x="260.60" y="606.97" font-size="6.0" fill="#1b2640" font-weight="bold" text-anchor="end" textLength="20.71" lengthAdjust="spacingAndGlyphs" stroke="#1b2640" stroke-width="0.3">CAP SUR</text>
<text x="356.38" y="607.07" font-size="6.3" fill="#1a1a1a" font-weight="bold" text-anchor="start" textLength="14.29" lengthAdjust="spacingAndGlyphs" stroke="#1a1a1a" stroke-width="0.3">27,5%</text>
<rect x="265.50" y="616.09" width="79.93" height="3.90" fill="#5e9680" />
<text x="260.60" y="620.04" font-size="6.0" fill="#1b2640" font-weight="bold" text-anchor="end" textLength="13.35" lengthAdjust="spacingAndGlyphs" stroke="#1b2640" stroke-width="0.3">UNDR</text>
<text x="348.03" y="620.14" font-size="6.3" fill="#1a1a1a" font-weight="bold" text-anchor="start" textLength="14.29" lengthAdjust="spacingAndGlyphs" stroke="#1a1a1a" stroke-width="0.3">24,9%</text>
<rect x="265.50" y="629.16" width="71.58" height="3.90" fill="#5e9680" />
<text x="260.60" y="633.11" font-size="6.0" fill="#1b2640" font-weight="bold" text-anchor="end" textLength="45.70" lengthAdjust="spacingAndGlyphs" stroke="#1b2640" stroke-width="0.3">Les Transformateurs</text>
<text x="339.68" y="633.21" font-size="6.3" fill="#1a1a1a" font-weight="bold" text-anchor="start" textLength="14.29" lengthAdjust="spacingAndGlyphs" stroke="#1a1a1a" stroke-width="0.3">22,3%</text>
<text x="265.50" y="647.00" font-size="5.0" fill="#222" font-weight="bold" text-anchor="middle" textLength="5.42" lengthAdjust="spacingAndGlyphs" stroke="#222" stroke-width="0.2">0%</text>
<text x="281.55" y="647.00" font-size="5.0" fill="#222" font-weight="bold" text-anchor="middle" textLength="5.42" lengthAdjust="spacingAndGlyphs" stroke="#222" stroke-width="0.2">5%</text>
<text x="297.60" y="647.00" font-size="5.0" fill="#222" font-weight="bold" text-anchor="middle" textLength="7.51" lengthAdjust="spacingAndGlyphs" stroke="#222" stroke-width="0.2">10%</text>
<text x="313.65" y="647.00" font-size="5.0" fill="#222" font-weight="bold" text-anchor="middle" textLength="7.51" lengthAdjust="spacingAndGlyphs" stroke="#222" stroke-width="0.2">15%</text>
<text x="329.70" y="647.00" font-size="5.0" fill="#222" font-weight="bold" text-anchor="middle" textLength="7.51" lengthAdjust="spacingAndGlyphs" stroke="#222" stroke-width="0.2">20%</text>
<text x="345.75" y="647.00" font-size="5.0" fill="#222" font-weight="bold" text-anchor="middle" textLength="7.51" lengthAdjust="spacingAndGlyphs" stroke="#222" stroke-width="0.2">25%</text>
<text x="361.80" y="647.00" font-size="5.0" fill="#222" font-weight="bold" text-anchor="middle" textLength="7.51" lengthAdjust="spacingAndGlyphs" stroke="#222" stroke-width="0.2">30%</text>
<text x="377.85" y="647.00" font-size="5.0" fill="#222" font-weight="bold" text-anchor="middle" textLength="7.51" lengthAdjust="spacingAndGlyphs" stroke="#222" stroke-width="0.2">35%</text>
<text x="393.90" y="647.00" font-size="5.0" fill="#222" font-weight="bold" text-anchor="middle" textLength="7.51" lengthAdjust="spacingAndGlyphs" stroke="#222" stroke-width="0.2">40%</text>
<rect x="496.20" y="452.36" width="107.80" height="188.72" fill="#f5f5f5" />
<line x1="496.20" y1="452.36" x2="604.00" y2="452.36" stroke="#e3e3e3" stroke-width="0.5" />
<line x1="496.20" y1="465.84" x2="604.00" y2="465.84" stroke="#e3e3e3" stroke-width="0.5" />
<line x1="496.20" y1="479.32" x2="604.00" y2="479.32" stroke="#e3e3e3" stroke-width="0.5" />
<line x1="496.20" y1="492.80" x2="604.00" y2="492.80" stroke="#e3e3e3" stroke-width="0.5" />
<line x1="496.20" y1="506.28" x2="604.00" y2="506.28" stroke="#e3e3e3" stroke-width="0.5" />
<line x1="496.20" y1="519.76" x2="604.00" y2="519.76" stroke="#e3e3e3" stroke-width="0.5" />
<line x1="496.20" y1="533.24" x2="604.00" y2="533.24" stroke="#e3e3e3" stroke-width="0.5" />
<line x1="496.20" y1="546.72" x2="604.00" y2="546.72" stroke="#e3e3e3" stroke-width="0.5" />
<line x1="496.20" y1="560.20" x2="604.00" y2="560.20" stroke="#e3e3e3" stroke-width="0.5" />
<line x1="496.20" y1="573.68" x2="604.00" y2="573.68" stroke="#e3e3e3" stroke-width="0.5" />
<line x1="496.20" y1="587.16" x2="604.00" y2="587.16" stroke="#e3e3e3" stroke-width="0.5" />
<line x1="496.20" y1="600.64" x2="604.00" y2="600.64" stroke="#e3e3e3" stroke-width="0.5" />
<line x1="496.20" y1="614.12" x2="604.00" y2="614.12" stroke="#e3e3e3" stroke-width="0.5" />
<line x1="496.20" y1="627.60" x2="604.00" y2="627.60" stroke="#e3e3e3" stroke-width="0.5" />
<line x1="496.20" y1="641.08" x2="604.00" y2="641.08" stroke="#e3e3e3" stroke-width="0.5" />
<line x1="496.20" y1="452.36" x2="496.20" y2="641.08" stroke="#dcdcdc" stroke-width="0.6" />
<line x1="506.98" y1="452.36" x2="506.98" y2="641.08" stroke="#dcdcdc" stroke-width="0.6" />
<line x1="517.76" y1="452.36" x2="517.76" y2="641.08" stroke="#dcdcdc" stroke-width="0.6" />
<line x1="528.54" y1="452.36" x2="528.54" y2="641.08" stroke="#dcdcdc" stroke-width="0.6" />
<line x1="539.32" y1="452.36" x2="539.32" y2="641.08" stroke="#dcdcdc" stroke-width="0.6" />
<line x1="550.10" y1="452.36" x2="550.10" y2="641.08" stroke="#dcdcdc" stroke-width="0.6" />
<line x1="560.88" y1="452.36" x2="560.88" y2="641.08" stroke="#dcdcdc" stroke-width="0.6" />
<line x1="571.66" y1="452.36" x2="571.66" y2="641.08" stroke="#dcdcdc" stroke-width="0.6" />
<line x1="582.44" y1="452.36" x2="582.44" y2="641.08" stroke="#dcdcdc" stroke-width="0.6" />
<line x1="593.22" y1="452.36" x2="593.22" y2="641.08" stroke="#dcdcdc" stroke-width="0.6" />
<line x1="604.00" y1="452.36" x2="604.00" y2="641.08" stroke="#dcdcdc" stroke-width="0.6" />
<rect x="496.20" y="457.15" width="38.59" height="3.90" fill="#b0482b" />
<text x="492.00" y="461.10" font-size="6.0" fill="#1b2640" font-weight="bold" text-anchor="end" textLength="10.01" lengthAdjust="spacingAndGlyphs" stroke="#1b2640" stroke-width="0.3">MPS</text>
<text x="537.39" y="461.20" font-size="6.3" fill="#1a1a1a" font-weight="bold" text-anchor="start" textLength="14.29" lengthAdjust="spacingAndGlyphs" stroke="#1a1a1a" stroke-width="0.3">17,9%</text>
<rect x="496.20" y="470.63" width="50.02" height="3.90" fill="#b0482b" />
<text x="492.00" y="474.58" font-size="6.0" fill="#1b2640" font-weight="bold" text-anchor="end" textLength="13.35" lengthAdjust="spacingAndGlyphs" stroke="#1b2640" stroke-width="0.3">UNDR</text>
<text x="548.82" y="474.68" font-size="6.3" fill="#1a1a1a" font-weight="bold" text-anchor="start" textLength="14.29" lengthAdjust="spacingAndGlyphs" stroke="#1a1a1a" stroke-width="0.3">23,2%</text>
<rect x="496.20" y="484.11" width="59.51" height="3.90" fill="#b0482b" />
<text x="492.00" y="488.06" font-size="6.0" fill="#1b2640" font-weight="bold" text-anchor="end" textLength="20.71" lengthAdjust="spacingAndGlyphs" stroke="#1b2640" stroke-width="0.3">CAP SUR</text>
<text x="558.31" y="488.16" font-size="6.3" fill="#1a1a1a" font-weight="bold" text-anchor="start" textLength="14.29" lengthAdjust="spacingAndGlyphs" stroke="#1a1a1a" stroke-width="0.3">27,6%</text>
<rect x="496.20" y="497.59" width="61.88" height="3.90" fill="#b0482b" />
<text x="492.00" y="501.54" font-size="6.0" fill="#1b2640" font-weight="bold" text-anchor="end" textLength="9.75" lengthAdjust="spacingAndGlyphs" stroke="#1b2640" stroke-width="0.3">RDP</text>
<text x="560.68" y="501.64" font-size="6.3" fill="#1a1a1a" font-weight="bold" text-anchor="start" textLength="14.29" lengthAdjust="spacingAndGlyphs" stroke="#1a1a1a" stroke-width="0.3">28,7%</text>
<rect x="496.20" y="511.07" width="68.56" height="3.90" fill="#b0482b" />
<text x="492.00" y="515.02" font-size="6.0" fill="#1b2640" font-weight="bold" text-anchor="end" textLength="34.40" lengthAdjust="spacingAndGlyphs" stroke="#1b2640" stroke-width="0.3">RNDT Le Réveil</text>
<text x="567.36" y="515.12" font-size="6.3" fill="#1a1a1a" font-weight="bold" text-anchor="start" textLength="14.29" lengthAdjust="spacingAndGlyphs" stroke="#1a1a1a" stroke-width="0.3">31,8%</text>
<rect x="496.20" y="524.55" width="68.99" height="3.90" fill="#b0482b" />
<text x="492.00" y="528.50" font-size="6.0" fill="#1b2640" font-weight="bold" text-anchor="end" textLength="16.43" lengthAdjust="spacingAndGlyphs" stroke="#1b2640" stroke-width="0.3">FAR/PF</text>
<text x="567.79" y="528.60" font-size="6.3" fill="#1a1a1a" font-weight="bold" text-anchor="start" textLength="14.29" lengthAdjust="spacingAndGlyphs" stroke="#1a1a1a" stroke-width="0.3">32,0%</text>
<rect x="496.20" y="538.03" width="69.42" height="3.90" fill="#b0482b" />
<text x="492.00" y="541.98" font-size="6.0" fill="#1b2640" font-weight="bold" text-anchor="end" textLength="12.58" lengthAdjust="spacingAndGlyphs" stroke="#1b2640" stroke-width="0.3">CTPD</text>
<text x="568.22" y="542.08" font-size="6.3" fill="#1a1a1a" font-weight="bold" text-anchor="start" textLength="14.29" lengthAdjust="spacingAndGlyphs" stroke="#1a1a1a" stroke-width="0.3">32,2%</text>
<rect x="496.20" y="551.51" width="71.36" height="3.90" fill="#b0482b" />
<text x="492.00" y="555.46" font-size="6.0" fill="#1b2640" font-weight="bold" text-anchor="end" textLength="10.01" lengthAdjust="spacingAndGlyphs" stroke="#1b2640" stroke-width="0.3">URD</text>
<text x="570.16" y="555.56" font-size="6.3" fill="#1a1a1a" font-weight="bold" text-anchor="start" textLength="14.29" lengthAdjust="spacingAndGlyphs" stroke="#1a1a1a" stroke-width="0.3">33,1%</text>
<rect x="496.20" y="564.99" width="72.44" height="3.90" fill="#b0482b" />
<text x="492.00" y="568.94" font-size="6.0" fill="#1b2640" font-weight="bold" text-anchor="end" textLength="23.79" lengthAdjust="spacingAndGlyphs" stroke="#1b2640" stroke-width="0.3">Viva RNDP</text>
<text x="571.24" y="569.04" font-size="6.3" fill="#1a1a1a" font-weight="bold" text-anchor="start" textLength="14.29" lengthAdjust="spacingAndGlyphs" stroke="#1a1a1a" stroke-width="0.3">33,6%</text>
<rect x="496.20" y="578.47" width="73.52" height="3.90" fill="#b0482b" />
<text x="492.00" y="582.42" font-size="6.0" fill="#1b2640" font-weight="bold" text-anchor="end" textLength="9.24" lengthAdjust="spacingAndGlyphs" stroke="#1b2640" stroke-width="0.3">PLD</text>
<text x="572.32" y="582.52" font-size="6.3" fill="#1a1a1a" font-weight="bold" text-anchor="start" textLength="14.29" lengthAdjust="spacingAndGlyphs" stroke="#1a1a1a" stroke-width="0.3">34,1%</text>
<rect x="496.20" y="591.95" width="87.75" height="3.90" fill="#27ae55" />
<text x="492.00" y="595.90" font-size="6.0" fill="#1b2640" font-weight="bold" text-anchor="end" textLength="12.84" lengthAdjust="spacingAndGlyphs" stroke="#1b2640" stroke-width="0.3">PDSA</text>
<text x="586.55" y="596.00" font-size="6.3" fill="#1a1a1a" font-weight="bold" text-anchor="start" textLength="14.29" lengthAdjust="spacingAndGlyphs" stroke="#1a1a1a" stroke-width="0.3">40,7%</text>
<rect x="496.20" y="605.43" width="91.20" height="3.90" fill="#27ae55" />
<text x="492.00" y="609.38" font-size="6.0" fill="#1b2640" font-weight="bold" text-anchor="end" textLength="10.01" lengthAdjust="spacingAndGlyphs" stroke="#1b2640" stroke-width="0.3">ARD</text>
<text x="590.00" y="609.48" font-size="6.3" fill="#1a1a1a" font-weight="bold" text-anchor="start" textLength="14.29" lengthAdjust="spacingAndGlyphs" stroke="#1a1a1a" stroke-width="0.3">42,3%</text>
<rect x="496.20" y="618.91" width="95.30" height="3.90" fill="#27ae55" />
<text x="492.00" y="619.86" font-size="6.0" fill="#1b2640" font-weight="bold" text-anchor="end" textLength="38.76" lengthAdjust="spacingAndGlyphs" stroke="#1b2640" stroke-width="0.3">Mouvement « Les</text>
<text x="492.00" y="625.46" font-size="6.0" fill="#1b2640" font-weight="bold" text-anchor="end" textLength="40.31" lengthAdjust="spacingAndGlyphs" stroke="#1b2640" stroke-width="0.3">Transformateurs »</text>
<text x="594.10" y="622.96" font-size="6.3" fill="#1a1a1a" font-weight="bold" text-anchor="start" textLength="14.29" lengthAdjust="spacingAndGlyphs" stroke="#1a1a1a" stroke-width="0.3">44,2%</text>
<rect x="496.20" y="632.39" width="98.31" height="3.90" fill="#27ae55" />
<text x="492.00" y="636.34" font-size="6.0" fill="#1b2640" font-weight="bold" text-anchor="end" textLength="12.32" lengthAdjust="spacingAndGlyphs" stroke="#1b2640" stroke-width="0.3">PDPT</text>
<text x="597.11" y="636.44" font-size="6.3" fill="#1a1a1a" font-weight="bold" text-anchor="start" textLength="14.29" lengthAdjust="spacingAndGlyphs" stroke="#1a1a1a" stroke-width="0.3">45,6%</text>
<text x="496.20" y="650.20" font-size="5.0" fill="#222" font-weight="bold" text-anchor="middle" textLength="5.42" lengthAdjust="spacingAndGlyphs" stroke="#222" stroke-width="0.2">0%</text>
<text x="506.98" y="650.20" font-size="5.0" fill="#222" font-weight="bold" text-anchor="middle" textLength="5.42" lengthAdjust="spacingAndGlyphs" stroke="#222" stroke-width="0.2">5%</text>
<text x="517.76" y="650.20" font-size="5.0" fill="#222" font-weight="bold" text-anchor="middle" textLength="7.51" lengthAdjust="spacingAndGlyphs" stroke="#222" stroke-width="0.2">10%</text>
<text x="528.54" y="650.20" font-size="5.0" fill="#222" font-weight="bold" text-anchor="middle" textLength="7.51" lengthAdjust="spacingAndGlyphs" stroke="#222" stroke-width="0.2">15%</text>
<text x="539.32" y="650.20" font-size="5.0" fill="#222" font-weight="bold" text-anchor="middle" textLength="7.51" lengthAdjust="spacingAndGlyphs" stroke="#222" stroke-width="0.2">20%</text>
<text x="550.10" y="650.20" font-size="5.0" fill="#222" font-weight="bold" text-anchor="middle" textLength="7.51" lengthAdjust="spacingAndGlyphs" stroke="#222" stroke-width="0.2">25%</text>
<text x="560.88" y="650.20" font-size="5.0" fill="#222" font-weight="bold" text-anchor="middle" textLength="7.51" lengthAdjust="spacingAndGlyphs" stroke="#222" stroke-width="0.2">30%</text>
<text x="571.66" y="650.20" font-size="5.0" fill="#222" font-weight="bold" text-anchor="middle" textLength="7.51" lengthAdjust="spacingAndGlyphs" stroke="#222" stroke-width="0.2">35%</text>
<text x="582.44" y="650.20" font-size="5.0" fill="#222" font-weight="bold" text-anchor="middle" textLength="7.51" lengthAdjust="spacingAndGlyphs" stroke="#222" stroke-width="0.2">40%</text>
<text x="593.22" y="650.20" font-size="5.0" fill="#222" font-weight="bold" text-anchor="middle" textLength="7.51" lengthAdjust="spacingAndGlyphs" stroke="#222" stroke-width="0.2">45%</text>
<text x="604.00" y="650.20" font-size="5.0" fill="#222" font-weight="bold" text-anchor="middle" textLength="7.51" lengthAdjust="spacingAndGlyphs" stroke="#222" stroke-width="0.2">50%</text>
<rect x="9.30" y="658.50" width="593.40" height="15.00" fill="#a8cebe" />
<text y="669.00" font-size="9" fill="#0a0a0a" stroke="#0a0a0a" stroke-width="0.28"><tspan x="118.90" textLength="121.80" lengthAdjust="spacingAndGlyphs" font-weight="bold">Autres partis politiques cités:</tspan><tspan x="241.60" textLength="251.20" lengthAdjust="spacingAndGlyphs"> MPTR, ASRI, UDP, Al Wassat, Al Nassour, UFD/PR, PRET, RFDT</tspan></text>
<path d="M33.2 296.0 l2.2 0 l1.6 2.8 l-2.2 0 z" fill="#b9bda6" opacity="0.6"/>
<path d="M40.7 296.0 l2.2 0 l1.6 2.8 l-2.2 0 z" fill="#5d5a48" opacity="0.9"/>
<path d="M49.0 296.0 l2.2 0 l1.6 2.8 l-2.2 0 z" fill="#5d5a48" opacity="0.9"/>
<path d="M48.9 337.0 l2.2 0 l1.6 2.8 l-2.2 0 z" fill="#b9bda6" opacity="0.6"/>
<path d="M56.4 337.0 l2.2 0 l1.6 2.8 l-2.2 0 z" fill="#5d5a48" opacity="0.9"/>
<path d="M66.0 337.0 l2.2 0 l1.6 2.8 l-2.2 0 z" fill="#5d5a48" opacity="0.9"/>
<path d="M42.0 654.8 l2.2 0 l1.6 2.8 l-2.2 0 z" fill="#b9bda6" opacity="0.6"/>
<path d="M49.5 654.8 l2.2 0 l1.6 2.8 l-2.2 0 z" fill="#5d5a48" opacity="0.9"/>
<path d="M57.8 654.8 l2.2 0 l1.6 2.8 l-2.2 0 z" fill="#5d5a48" opacity="0.9"/>
<path d="M49.0 676.2 l2.2 0 l1.6 2.8 l-2.2 0 z" fill="#b9bda6" opacity="0.6"/>
<path d="M56.5 676.2 l2.2 0 l1.6 2.8 l-2.2 0 z" fill="#5d5a48" opacity="0.9"/>
<path d="M65.8 676.2 l2.2 0 l1.6 2.8 l-2.2 0 z" fill="#5d5a48" opacity="0.9"/>
<text y="716.30" font-size="23" font-weight="bold" fill="#1e1e1a" stroke="#1e1e1a" stroke-width="0.35"><tspan x="87.80" textLength="26.10" lengthAdjust="spacingAndGlyphs">LA</tspan> <tspan x="119.60" textLength="112.10" lengthAdjust="spacingAndGlyphs">CAPACITÉ</tspan> <tspan x="239.10" textLength="38.70" lengthAdjust="spacingAndGlyphs">DES</tspan> <tspan x="284.40" textLength="77.80" lengthAdjust="spacingAndGlyphs">AUTRES</tspan> <tspan x="369.40" textLength="71.20" lengthAdjust="spacingAndGlyphs">PARTIS</tspan> <tspan x="449.10" textLength="40.30" lengthAdjust="spacingAndGlyphs">PAR</tspan> <tspan x="497.80" textLength="96.10" lengthAdjust="spacingAndGlyphs">RAPPORT</tspan></text>
<text y="743.60" font-size="23" font-weight="bold" fill="#1e1e1a" stroke="#1e1e1a" stroke-width="0.35"><tspan x="87.00" textLength="30.70" lengthAdjust="spacingAndGlyphs">AU</tspan> <tspan x="126.20" textLength="56.50" lengthAdjust="spacingAndGlyphs">PARTI</tspan> <tspan x="190.00" textLength="163.00" lengthAdjust="spacingAndGlyphs">ACTUELLEMENT</tspan> <tspan x="358.90" textLength="147.00" lengthAdjust="spacingAndGlyphs">MAJORITAIRE</tspan></text>
<path d="M0 715.6 H68 L80 728.1 L68 740.6 H0 Z" fill="#b43a1c"/>
<text x="55.50" y="733.70" font-size="13.4" fill="#f4c9b6" font-weight="normal" text-anchor="middle" >12</text>
<rect x="83.20" y="759.50" width="513.80" height="25.50" fill="#f3c9a0" />
<rect x="83.20" y="785.20" width="513.40" height="224.30" fill="#ffffff" stroke="#8f8f8f" stroke-width="1"/>
<text x="98.00" y="769.50" font-size="8.3" fill="#000" font-weight="bold" text-anchor="start" textLength="485.00" lengthAdjust="spacingAndGlyphs" >Par rapport au parti majoritaire à l’Assemblée Nationale au cours de la Troisième législature (MPS), dites-nous si le</text>
<text x="340.00" y="780.00" font-size="8.3" fill="#000" font-weight="bold" text-anchor="middle" textLength="106.00" lengthAdjust="spacingAndGlyphs" >parti suivant ferait mieux</text>
<rect x="319.90" y="789.00" width="247.80" height="203.00" fill="#f4f4f4" />
<line x1="319.90" y1="789.00" x2="319.90" y2="992.00" stroke="#dedede" stroke-width="0.7" />
<line x1="361.20" y1="789.00" x2="361.20" y2="992.00" stroke="#dedede" stroke-width="0.7" />
<line x1="402.50" y1="789.00" x2="402.50" y2="992.00" stroke="#dedede" stroke-width="0.7" />
<line x1="443.80" y1="789.00" x2="443.80" y2="992.00" stroke="#dedede" stroke-width="0.7" />
<line x1="485.10" y1="789.00" x2="485.10" y2="992.00" stroke="#dedede" stroke-width="0.7" />
<line x1="526.40" y1="789.00" x2="526.40" y2="992.00" stroke="#dedede" stroke-width="0.7" />
<line x1="567.70" y1="789.00" x2="567.70" y2="992.00" stroke="#dedede" stroke-width="0.7" />
<line x1="319.90" y1="789.00" x2="567.70" y2="789.00" stroke="#e2e2e2" stroke-width="0.6" />
<line x1="319.90" y1="804.62" x2="567.70" y2="804.62" stroke="#e2e2e2" stroke-width="0.6" />
<line x1="319.90" y1="820.23" x2="567.70" y2="820.23" stroke="#e2e2e2" stroke-width="0.6" />
<line x1="319.90" y1="835.85" x2="567.70" y2="835.85" stroke="#e2e2e2" stroke-width="0.6" />
<line x1="319.90" y1="851.46" x2="567.70" y2="851.46" stroke="#e2e2e2" stroke-width="0.6" />
<line x1="319.90" y1="867.08" x2="567.70" y2="867.08" stroke="#e2e2e2" stroke-width="0.6" />
<line x1="319.90" y1="882.69" x2="567.70" y2="882.69" stroke="#e2e2e2" stroke-width="0.6" />
<line x1="319.90" y1="898.31" x2="567.70" y2="898.31" stroke="#e2e2e2" stroke-width="0.6" />
<line x1="319.90" y1="913.92" x2="567.70" y2="913.92" stroke="#e2e2e2" stroke-width="0.6" />
<line x1="319.90" y1="929.54" x2="567.70" y2="929.54" stroke="#e2e2e2" stroke-width="0.6" />
<line x1="319.90" y1="945.15" x2="567.70" y2="945.15" stroke="#e2e2e2" stroke-width="0.6" />
<line x1="319.90" y1="960.77" x2="567.70" y2="960.77" stroke="#e2e2e2" stroke-width="0.6" />
<line x1="319.90" y1="976.38" x2="567.70" y2="976.38" stroke="#e2e2e2" stroke-width="0.6" />
<line x1="319.90" y1="992.00" x2="567.70" y2="992.00" stroke="#e2e2e2" stroke-width="0.6" />
<rect x="319.90" y="794.70" width="219.72" height="4.40" fill="#4a4032" />
<text x="312.90" y="799.50" font-size="7.4" fill="#222" font-weight="normal" text-anchor="end" textLength="18.81" lengthAdjust="spacingAndGlyphs" stroke="#222" stroke-width="0.15">UNDR</text>
<text x="543.62" y="798.90" font-size="5.7" fill="#1a1a1a" font-weight="bold" text-anchor="start" textLength="14.55" lengthAdjust="spacingAndGlyphs" stroke="#1a1a1a" stroke-width="0.25">26,6%</text>
<rect x="319.90" y="810.32" width="209.80" height="4.40" fill="#4a4032" />
<text x="312.90" y="815.12" font-size="7.4" fill="#222" font-weight="normal" text-anchor="end" textLength="106.40" lengthAdjust="spacingAndGlyphs" stroke="#222" stroke-width="0.15">Mouvement « Les Transformateurs »</text>
<text x="533.70" y="814.52" font-size="5.7" fill="#1a1a1a" font-weight="bold" text-anchor="start" textLength="14.55" lengthAdjust="spacingAndGlyphs" stroke="#1a1a1a" stroke-width="0.25">25,4%</text>
<rect x="319.90" y="825.94" width="207.33" height="4.40" fill="#4a4032" />
<text x="312.90" y="830.74" font-size="7.4" fill="#222" font-weight="normal" text-anchor="end" textLength="29.31" lengthAdjust="spacingAndGlyphs" stroke="#222" stroke-width="0.15">CAP-SUR</text>
<text x="531.23" y="830.14" font-size="5.7" fill="#1a1a1a" font-weight="bold" text-anchor="start" textLength="14.55" lengthAdjust="spacingAndGlyphs" stroke="#1a1a1a" stroke-width="0.25">25,1%</text>
<rect x="319.90" y="841.56" width="177.59" height="4.40" fill="#ccb99f" />
<text x="312.90" y="846.36" font-size="7.4" fill="#222" font-weight="normal" text-anchor="end" textLength="22.80" lengthAdjust="spacingAndGlyphs" stroke="#222" stroke-width="0.15">FAR/PF</text>
<text x="501.49" y="845.76" font-size="5.7" fill="#1a1a1a" font-weight="bold" text-anchor="start" textLength="14.55" lengthAdjust="spacingAndGlyphs" stroke="#1a1a1a" stroke-width="0.25">21,5%</text>
<rect x="319.90" y="857.18" width="159.42" height="4.40" fill="#ccb99f" />
<text x="312.90" y="861.98" font-size="7.4" fill="#222" font-weight="normal" text-anchor="end" textLength="17.73" lengthAdjust="spacingAndGlyphs" stroke="#222" stroke-width="0.15">CTPD</text>
<text x="483.32" y="861.38" font-size="5.7" fill="#1a1a1a" font-weight="bold" text-anchor="start" textLength="14.55" lengthAdjust="spacingAndGlyphs" stroke="#1a1a1a" stroke-width="0.25">19,3%</text>
<rect x="319.90" y="872.80" width="144.55" height="4.40" fill="#ccb99f" />
<text x="312.90" y="877.60" font-size="7.4" fill="#222" font-weight="normal" text-anchor="end" textLength="12.67" lengthAdjust="spacingAndGlyphs" stroke="#222" stroke-width="0.15">PLD</text>
<text x="468.45" y="877.00" font-size="5.7" fill="#1a1a1a" font-weight="bold" text-anchor="start" textLength="14.55" lengthAdjust="spacingAndGlyphs" stroke="#1a1a1a" stroke-width="0.25">17,5%</text>
<rect x="319.90" y="888.42" width="137.94" height="4.40" fill="#ccb99f" />
<text x="312.90" y="893.22" font-size="7.4" fill="#222" font-weight="normal" text-anchor="end" textLength="14.11" lengthAdjust="spacingAndGlyphs" stroke="#222" stroke-width="0.15">URD</text>
<text x="461.84" y="892.62" font-size="5.7" fill="#1a1a1a" font-weight="bold" text-anchor="start" textLength="14.55" lengthAdjust="spacingAndGlyphs" stroke="#1a1a1a" stroke-width="0.25">16,7%</text>
<rect x="319.90" y="904.04" width="129.68" height="4.40" fill="#ccb99f" />
<text x="312.90" y="908.84" font-size="7.4" fill="#222" font-weight="normal" text-anchor="end" textLength="46.92" lengthAdjust="spacingAndGlyphs" stroke="#222" stroke-width="0.15">RNDT Le Réveil</text>
<text x="453.58" y="908.24" font-size="5.7" fill="#1a1a1a" font-weight="bold" text-anchor="start" textLength="14.55" lengthAdjust="spacingAndGlyphs" stroke="#1a1a1a" stroke-width="0.25">15,7%</text>
<rect x="319.90" y="919.66" width="128.86" height="4.40" fill="#ccb99f" />
<text x="312.90" y="924.46" font-size="7.4" fill="#222" font-weight="normal" text-anchor="end" textLength="13.75" lengthAdjust="spacingAndGlyphs" stroke="#222" stroke-width="0.15">RDP</text>
<text x="452.76" y="923.86" font-size="5.7" fill="#1a1a1a" font-weight="bold" text-anchor="start" textLength="14.55" lengthAdjust="spacingAndGlyphs" stroke="#1a1a1a" stroke-width="0.25">15,6%</text>
<rect x="319.90" y="935.28" width="107.38" height="4.40" fill="#ccb99f" />
<text x="312.90" y="940.08" font-size="7.4" fill="#222" font-weight="normal" text-anchor="end" textLength="13.75" lengthAdjust="spacingAndGlyphs" stroke="#222" stroke-width="0.15">ARD</text>
<text x="431.28" y="939.48" font-size="5.7" fill="#1a1a1a" font-weight="bold" text-anchor="start" textLength="14.55" lengthAdjust="spacingAndGlyphs" stroke="#1a1a1a" stroke-width="0.25">13,0%</text>
<rect x="319.90" y="950.90" width="105.73" height="4.40" fill="#ccb99f" />
<text x="312.90" y="955.70" font-size="7.4" fill="#222" font-weight="normal" text-anchor="end" textLength="32.81" lengthAdjust="spacingAndGlyphs" stroke="#222" stroke-width="0.15">Viva RNDP</text>
<text x="429.63" y="955.10" font-size="5.7" fill="#1a1a1a" font-weight="bold" text-anchor="start" textLength="14.55" lengthAdjust="spacingAndGlyphs" stroke="#1a1a1a" stroke-width="0.25">12,8%</text>
<rect x="319.90" y="966.52" width="89.21" height="4.40" fill="#ccb99f" />
<text x="312.90" y="971.32" font-size="7.4" fill="#222" font-weight="normal" text-anchor="end" textLength="17.37" lengthAdjust="spacingAndGlyphs" stroke="#222" stroke-width="0.15">PDPT</text>
<text x="413.11" y="970.72" font-size="5.7" fill="#1a1a1a" font-weight="bold" text-anchor="start" textLength="14.55" lengthAdjust="spacingAndGlyphs" stroke="#1a1a1a" stroke-width="0.25">10,8%</text>
<rect x="319.90" y="982.14" width="79.30" height="4.40" fill="#ccb99f" />
<text x="312.90" y="986.94" font-size="7.4" fill="#222" font-weight="normal" text-anchor="end" textLength="17.73" lengthAdjust="spacingAndGlyphs" stroke="#222" stroke-width="0.15">PDSA</text>
<text x="403.20" y="986.34" font-size="5.7" fill="#1a1a1a" font-weight="bold" text-anchor="start" textLength="11.69" lengthAdjust="spacingAndGlyphs" stroke="#1a1a1a" stroke-width="0.25">9,6%</text>
<text x="319.90" y="1004.30" font-size="6.4" fill="#222" font-weight="normal" text-anchor="middle" textLength="8.33" lengthAdjust="spacingAndGlyphs" stroke="#222" stroke-width="0.15">0%</text>
<text x="361.20" y="1004.30" font-size="6.4" fill="#222" font-weight="normal" text-anchor="middle" textLength="8.33" lengthAdjust="spacingAndGlyphs" stroke="#222" stroke-width="0.15">5%</text>
<text x="402.50" y="1004.30" font-size="6.4" fill="#222" font-weight="normal" text-anchor="middle" textLength="11.53" lengthAdjust="spacingAndGlyphs" stroke="#222" stroke-width="0.15">10%</text>
<text x="443.80" y="1004.30" font-size="6.4" fill="#222" font-weight="normal" text-anchor="middle" textLength="11.53" lengthAdjust="spacingAndGlyphs" stroke="#222" stroke-width="0.15">15%</text>
<text x="485.10" y="1004.30" font-size="6.4" fill="#222" font-weight="normal" text-anchor="middle" textLength="11.53" lengthAdjust="spacingAndGlyphs" stroke="#222" stroke-width="0.15">20%</text>
<text x="526.40" y="1004.30" font-size="6.4" fill="#222" font-weight="normal" text-anchor="middle" textLength="11.53" lengthAdjust="spacingAndGlyphs" stroke="#222" stroke-width="0.15">25%</text>
<text x="567.70" y="1004.30" font-size="6.4" fill="#222" font-weight="normal" text-anchor="middle" textLength="11.53" lengthAdjust="spacingAndGlyphs" stroke="#222" stroke-width="0.15">30%</text>
</svg>
</body></html>
